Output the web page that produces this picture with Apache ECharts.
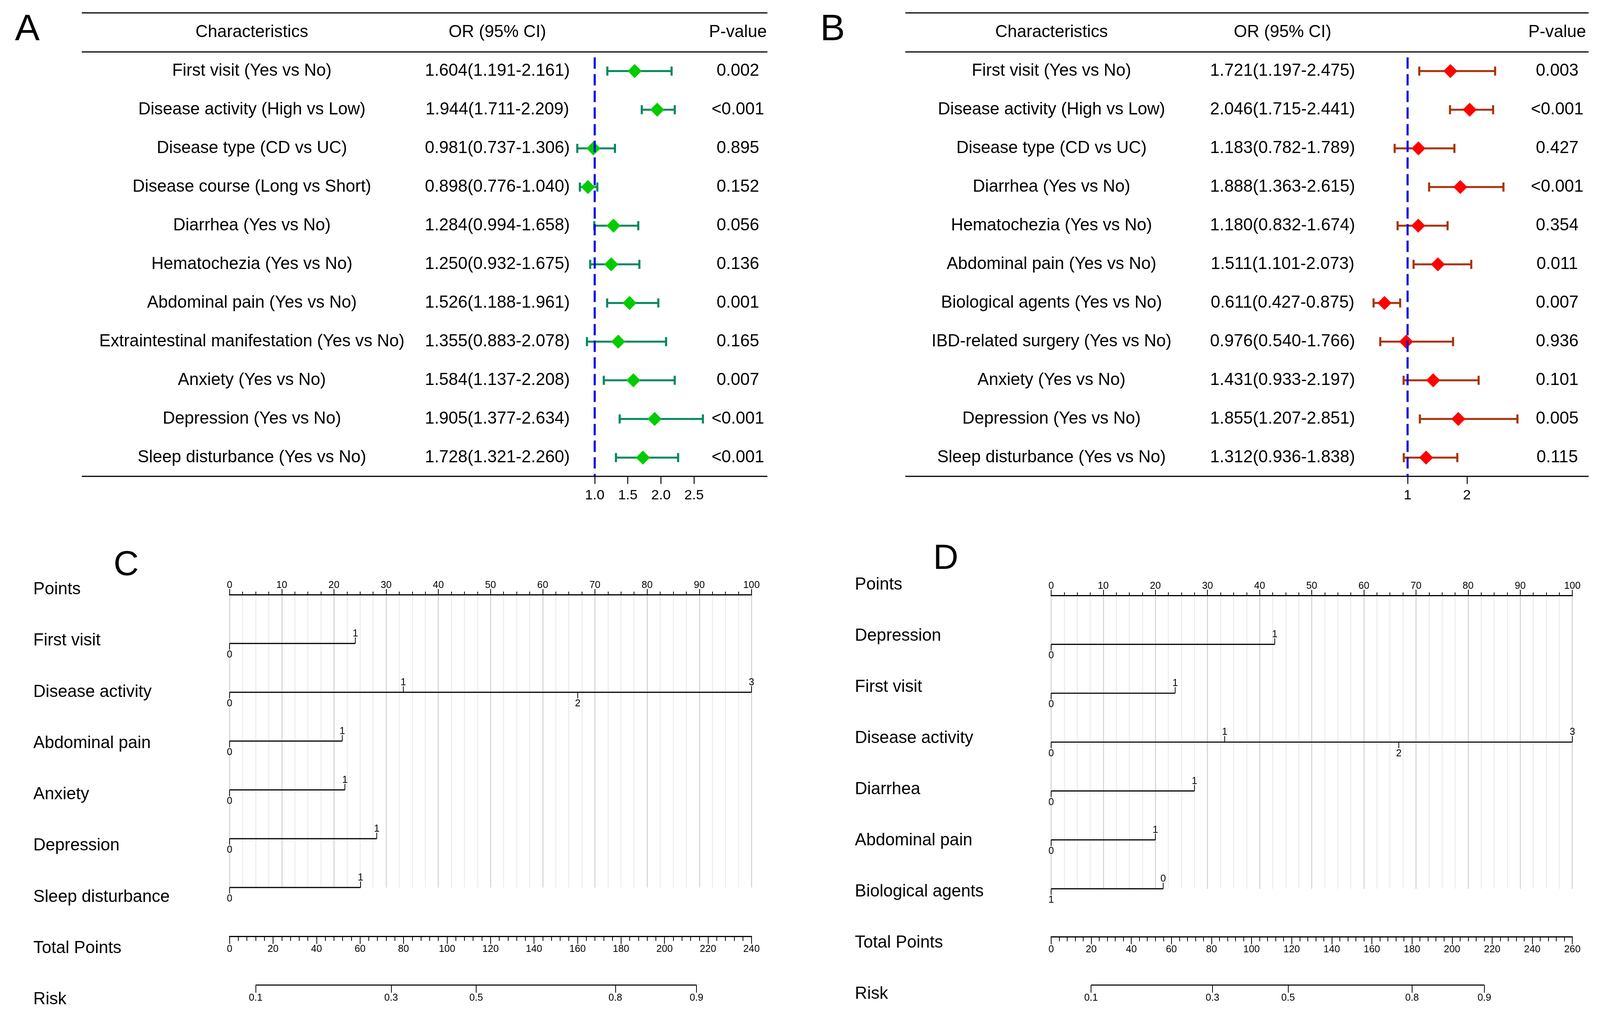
<!DOCTYPE html>
<html>
<head>
<meta charset="utf-8">
<script src="https://cdn.jsdelivr.net/npm/echarts@6/dist/echarts.min.js"></script>
<style>
html,body{margin:0;padding:0;background:#fff;overflow:hidden;}
#chart{width:100vw;height:100vh;}
</style>
</head>
<body>
<div id="chart"></div>
<script>
// ================= DATA =================
// Panel A – forest plot
const aCharacteristics = [
  'First visit (Yes vs No)', 'Disease activity (High vs Low)', 'Disease type (CD vs UC)',
  'Disease course (Long vs Short)', 'Diarrhea (Yes vs No)', 'Hematochezia (Yes vs No)',
  'Abdominal pain (Yes vs No)', 'Extraintestinal manifestation (Yes vs No)', 'Anxiety (Yes vs No)',
  'Depression (Yes vs No)', 'Sleep disturbance (Yes vs No)'
];
const aOR    = [1.604, 1.944, 0.981, 0.898, 1.284, 1.250, 1.526, 1.355, 1.584, 1.905, 1.728];
const aLower = [1.191, 1.711, 0.737, 0.776, 0.994, 0.932, 1.188, 0.883, 1.137, 1.377, 1.321];
const aUpper = [2.161, 2.209, 1.306, 1.040, 1.658, 1.675, 1.961, 2.078, 2.208, 2.634, 2.260];
const aPValue = ['0.002', '<0.001', '0.895', '0.152', '0.056', '0.136', '0.001', '0.165', '0.007', '<0.001', '<0.001'];
const aTicks = [1.0, 1.5, 2.0, 2.5];

// Panel B – forest plot
const bCharacteristics = [
  'First visit (Yes vs No)', 'Disease activity (High vs Low)', 'Disease type (CD vs UC)',
  'Diarrhea (Yes vs No)', 'Hematochezia (Yes vs No)', 'Abdominal pain (Yes vs No)',
  'Biological agents (Yes vs No)', 'IBD-related surgery (Yes vs No)', 'Anxiety (Yes vs No)',
  'Depression (Yes vs No)', 'Sleep disturbance (Yes vs No)'
];
const bOR    = [1.721, 2.046, 1.183, 1.888, 1.180, 1.511, 0.611, 0.976, 1.431, 1.855, 1.312];
const bLower = [1.197, 1.715, 0.782, 1.363, 0.832, 1.101, 0.427, 0.540, 0.933, 1.207, 0.936];
const bUpper = [2.475, 2.441, 1.789, 2.615, 1.674, 2.073, 0.875, 1.766, 2.197, 2.851, 1.838];
const bPValue = ['0.003', '<0.001', '0.427', '<0.001', '0.354', '0.011', '0.007', '0.936', '0.101', '0.005', '0.115'];
const bTicks = [1, 2];

const tableHeaders = ['Characteristics', 'OR (95% CI)', 'P-value'];

// Panel C – nomogram
const cVariables = ['First visit', 'Disease activity', 'Abdominal pain', 'Anxiety', 'Depression', 'Sleep disturbance'];
const cLevels = [['0', '1'], ['0', '1', '2', '3'], ['0', '1'], ['0', '1'], ['0', '1'], ['0', '1']];
const cPoints = [[0, 24.1], [0, 33.3, 66.7, 100], [0, 21.6], [0, 22.1], [0, 28.2], [0, 25.1]];
const cTotalMax = 240;
const cRiskLabels = ['0.1', '0.3', '0.5', '0.8', '0.9'];
const cRiskAt = [12.0, 74.3, 113.4, 177.4, 214.7];   // position on Total Points scale

// Panel D – nomogram
const dVariables = ['Depression', 'First visit', 'Disease activity', 'Diarrhea', 'Abdominal pain', 'Biological agents'];
const dLevels = [['0', '1'], ['0', '1'], ['0', '1', '2', '3'], ['0', '1'], ['0', '1'], ['1', '0']];
const dPoints = [[0, 42.9], [0, 23.8], [0, 33.3, 66.7, 100], [0, 27.5], [0, 20.0], [0, 21.5]];
const dTotalMax = 260;
const dRiskLabels = ['0.1', '0.3', '0.5', '0.8', '0.9'];
const dRiskAt = [19.9, 80.5, 118.2, 180.0, 216.1];

// ================= LAYOUT / STYLE =================
// design space is 4224 x 2597; scaled to the real viewport
const el = document.getElementById('chart');
const VW = el.clientWidth || window.innerWidth || 4224;
const VH = el.clientHeight || window.innerHeight || 2597;
const SX = VW / 4224, SY = VH / 2597, S = Math.min(SX, SY);
const X = v => v * SX, Y = v => v * SY, Z = v => v * S;

const FONT = "'Liberation Sans', Arial, Helvetica, sans-serif";
const F_TOP = 147, F_H = 1073, Y_MIN = -0.354, Y_MAX = 10.485;

const grids = [], xAxes = [], yAxes = [], series = [];

function addGrid(g) {
  grids.push(Object.assign({containLabel: false, outerBoundsMode: 'none'}, g));
  return grids.length - 1;
}

function forestPanel(cfg) {
  const gF = addGrid({left: X(cfg.plotLeft), top: Y(F_TOP), width: X(cfg.plotWidth), height: Y(F_H)});
  xAxes.push({
    gridIndex: gF, type: 'value', min: cfg.min, max: cfg.max, interval: cfg.interval, position: 'bottom',
    axisLine: {show: false, onZero: false}, splitLine: {show: false},
    axisTick: {show: true, customValues: cfg.ticks, length: Z(20), lineStyle: {color: '#000', width: Z(2.5)}},
    axisLabel: {show: true, customValues: cfg.ticks, formatter: cfg.fmt, fontSize: Z(37), color: '#000',
      margin: Z(32), fontFamily: FONT, hideOverlap: false}
  });
  const xF = xAxes.length - 1;
  yAxes.push({gridIndex: gF, type: 'value', min: Y_MIN, max: Y_MAX, inverse: true, show: false, axisLine: {onZero: false}});
  const yF = yAxes.length - 1;

  const gT = addGrid({left: X(cfg.tableLeft), top: Y(F_TOP), width: X(cfg.tableWidth), height: Y(F_H)});
  xAxes.push({gridIndex: gT, type: 'value', min: 0, max: cfg.tableWidth, show: false, axisLine: {onZero: false}});
  const xT = xAxes.length - 1;
  yAxes.push({gridIndex: gT, type: 'value', min: Y_MIN, max: Y_MAX, inverse: true, show: false, axisLine: {onZero: false}});
  const yT = yAxes.length - 1;

  // CI bars + diamonds
  series.push({
    type: 'custom', xAxisIndex: xF, yAxisIndex: yF, silent: true, clip: false, z: 3,
    data: cfg.or.map((v, i) => [v, cfg.lo[i], cfg.hi[i], i]),
    encode: {x: [0, 1, 2], y: 3},
    renderItem: function (params, api) {
      const r = api.value(3);
      const pO = api.coord([api.value(0), r]);
      const pL = api.coord([api.value(1), r]);
      const pH = api.coord([api.value(2), r]);
      const cap = Z(12), half = Z(18.5);
      return {
        type: 'group', children: [
          {type: 'line', shape: {x1: pL[0], y1: pL[1], x2: pH[0], y2: pH[1]}, style: {stroke: cfg.ciColor, lineWidth: Z(5)}},
          {type: 'line', shape: {x1: pL[0], y1: pL[1] - cap, x2: pL[0], y2: pL[1] + cap}, style: {stroke: cfg.ciColor, lineWidth: Z(5.5)}},
          {type: 'line', shape: {x1: pH[0], y1: pH[1] - cap, x2: pH[0], y2: pH[1] + cap}, style: {stroke: cfg.ciColor, lineWidth: Z(5.5)}},
          {type: 'polygon', shape: {points: [[pO[0], pO[1] - half], [pO[0] + half, pO[1]], [pO[0], pO[1] + half], [pO[0] - half, pO[1]]]},
            style: {fill: cfg.dotColor}}
        ]
      };
    }
  });
  // reference line at OR = 1
  series.push({
    type: 'line', xAxisIndex: xF, yAxisIndex: yF, silent: true, z: 10, symbol: 'none',
    data: [[1, Y_MIN], [1, Y_MAX]],
    lineStyle: {color: '#0000DD', width: Z(5.5), type: [Z(30), Z(14)]}
  });
  // table text
  series.push({
    type: 'custom', xAxisIndex: xT, yAxisIndex: yT, silent: true, clip: false,
    data: [[0, -1]].concat(cfg.names.map((_, i) => [0, i])),
    encode: {x: 0, y: 1},
    renderItem: function (params, api) {
      const r = api.value(1);
      const texts = r < 0 ? tableHeaders
        : [cfg.names[r], cfg.or[r].toFixed(3) + '(' + cfg.lo[r].toFixed(3) + '-' + cfg.hi[r].toFixed(3) + ')', cfg.p[r]];
      return {
        type: 'group',
        children: texts.map((t, k) => {
          const p = api.coord([cfg.cols[k], r]);
          return {type: 'text', x: p[0], y: p[1],
            style: {text: t, fontSize: Z(45), fontFamily: FONT, fill: '#000', textAlign: 'center', textVerticalAlign: 'middle'}};
        })
      };
    }
  });
}

function nomoPanel(cfg) {
  const nRows = cfg.vars.length;
  // row names
  const gL = addGrid({left: X(cfg.labelGridLeft), top: Y(cfg.labelTop), width: X(10), height: Y(cfg.labelBottom - cfg.labelTop)});
  xAxes.push({gridIndex: gL, type: 'value', min: 0, max: 1, show: false, axisLine: {onZero: false}});
  yAxes.push({
    gridIndex: gL, type: 'category', inverse: true, boundaryGap: false,
    data: ['Points'].concat(cfg.vars, ['Total Points', 'Risk']),
    axisLine: {show: false, onZero: false}, axisTick: {show: false}, splitLine: {show: false},
    axisLabel: {interval: 0, margin: X(cfg.labelGridLeft - cfg.labelX), align: 'left', fontSize: Z(45),
      color: '#000', fontFamily: FONT}
  });

  // Points scale + variables
  const gM = addGrid({left: X(cfg.left), top: Y(cfg.top), width: X(cfg.width), height: Y(nRows * cfg.rowH)});
  xAxes.push({
    gridIndex: gM, type: 'value', min: 0, max: 100, interval: 10, position: 'top',
    axisLine: {show: true, onZero: false, lineStyle: {color: '#000', width: Z(3)}},
    axisTick: {show: true, length: Z(15), lineStyle: {color: '#000', width: Z(2)}},
    minorTick: {show: true, splitNumber: 4, length: Z(8), lineStyle: {color: '#000', width: Z(2)}},
    axisLabel: {fontSize: Z(26), color: '#000', margin: Z(12), fontFamily: FONT, showMinLabel: true, showMaxLabel: true, hideOverlap: false},
    splitLine: {show: true, lineStyle: {color: '#d0d0d0', width: Z(2.5)}},
    minorSplitLine: {show: true, lineStyle: {color: '#ebebeb', width: Z(2.5)}}
  });
  const xM = xAxes.length - 1;
  yAxes.push({gridIndex: gM, type: 'value', min: 0, max: nRows, inverse: true, show: false, axisLine: {onZero: false}});
  const yM = yAxes.length - 1;
  series.push({
    type: 'custom', xAxisIndex: xM, yAxisIndex: yM, silent: true, clip: false, z: 4,
    data: cfg.points.map((p, i) => [Math.min.apply(null, p), i + 1, Math.max.apply(null, p)]),
    encode: {x: [0, 2], y: 1},
    renderItem: function (params, api) {
      const i = params.dataIndex, row = api.value(1);
      const pts = cfg.points[i], lev = cfg.levels[i];
      const a = api.coord([api.value(0), row]), b = api.coord([api.value(2), row]);
      const ch = [{type: 'line', shape: {x1: a[0], y1: a[1], x2: b[0], y2: b[1]}, style: {stroke: '#000', lineWidth: Z(3)}}];
      pts.forEach((v, k) => {
        const p = api.coord([v, row]);
        const dir = k % 2 === 0 ? 1 : -1;
        ch.push({type: 'line', shape: {x1: p[0], y1: p[1], x2: p[0], y2: p[1] + dir * Z(16)}, style: {stroke: '#000', lineWidth: Z(2)}});
        ch.push({type: 'text', x: p[0], y: p[1] + (dir > 0 ? Z(30) : -Z(26)),
          style: {text: lev[k], fontSize: Z(26), fontFamily: FONT, fill: '#000', textAlign: 'center', textVerticalAlign: 'middle'}});
      });
      return {type: 'group', children: ch};
    }
  });

  // Total Points scale
  const gTP = addGrid({left: X(cfg.left), top: Y(cfg.totalY - 100), width: X(cfg.width), height: Y(100)});
  xAxes.push({
    gridIndex: gTP, type: 'value', min: 0, max: cfg.totalMax, interval: 20, position: 'bottom',
    axisLine: {show: true, onZero: false, lineStyle: {color: '#000', width: Z(3)}},
    axisTick: {show: true, length: Z(20), lineStyle: {color: '#000', width: Z(2)}},
    minorTick: {show: true, splitNumber: 5, length: Z(12), lineStyle: {color: '#000', width: Z(2)}},
    axisLabel: {fontSize: Z(26), color: '#000', margin: Z(21), fontFamily: FONT, showMinLabel: true, showMaxLabel: true, hideOverlap: false},
    splitLine: {show: false}
  });
  yAxes.push({gridIndex: gTP, type: 'value', min: 0, max: 1, show: false, axisLine: {onZero: false}});

  // Risk scale
  const gR = addGrid({left: X(cfg.left), top: Y(cfg.riskY - 100), width: X(cfg.width), height: Y(100)});
  xAxes.push({
    gridIndex: gR, type: 'value', min: 0, max: cfg.totalMax, position: 'bottom',
    axisLine: {show: false, onZero: false}, splitLine: {show: false},
    axisTick: {show: true, customValues: cfg.riskAt, length: Z(20), lineStyle: {color: '#000', width: Z(2)}},
    axisLabel: {show: true, customValues: cfg.riskAt, fontSize: Z(26), color: '#000', margin: Z(21), fontFamily: FONT, hideOverlap: false,
      formatter: function (v) {
        const k = cfg.riskAt.findIndex(a => Math.abs(a - v) < 1e-6);
        return k >= 0 ? cfg.riskLabels[k] : '';
      }}
  });
  const xR = xAxes.length - 1;
  yAxes.push({gridIndex: gR, type: 'value', min: 0, max: 1, show: false, axisLine: {onZero: false}});
  const yR = yAxes.length - 1;
  series.push({
    type: 'line', xAxisIndex: xR, yAxisIndex: yR, silent: true, symbol: 'none',
    data: [[cfg.riskAt[0], 0], [cfg.riskAt[cfg.riskAt.length - 1], 0]],
    lineStyle: {color: '#000', width: Z(3)}
  });
}

forestPanel({
  names: aCharacteristics, or: aOR, lo: aLower, hi: aUpper, p: aPValue,
  ticks: aTicks, fmt: v => Number(v).toFixed(1), min: 0.5, max: 3.0, interval: 0.5,
  plotLeft: 1482.6, plotWidth: 437.0, tableLeft: 216, tableWidth: 1810, cols: [449, 1097, 1732],
  ciColor: '#00875C', dotColor: '#00CC00'
});
forestPanel({
  names: bCharacteristics, or: bOR, lo: bLower, hi: bUpper, p: bPValue,
  ticks: bTicks, fmt: v => String(Math.round(v)), min: 0, max: 3, interval: 1,
  plotLeft: 3559.3, plotWidth: 470.1, tableLeft: 2390, tableWidth: 1804, cols: [386, 996, 1721],
  ciColor: '#A83208', dotColor: '#FF0000'
});
nomoPanel({
  vars: cVariables, levels: cLevels, points: cPoints, totalMax: cTotalMax, riskLabels: cRiskLabels, riskAt: cRiskAt,
  left: 606, width: 1378, top: 1523, rowH: 125, totalY: 2398, riskY: 2523,
  labelX: 88, labelGridLeft: 600, labelTop: 1510, labelBottom: 2560
});
nomoPanel({
  vars: dVariables, levels: dLevels, points: dPoints, totalMax: dTotalMax, riskLabels: dRiskLabels, riskAt: dRiskAt,
  left: 2775, width: 1376, top: 1525, rowH: 125.2, totalY: 2399, riskY: 2523,
  labelX: 2257, labelGridLeft: 2770, labelTop: 1498, labelBottom: 2546
});

const rule = (x1, x2, y) => ({type: 'line', silent: true, shape: {x1: X(x1), y1: Y(y), x2: X(x2), y2: Y(y)}, style: {stroke: '#000', lineWidth: Z(3)}});
const letter = (t, x, y, s) => ({type: 'text', silent: true, x: X(x), y: Y(y),
  style: {text: t, fontSize: Z(s), fontFamily: FONT, fill: '#000', textAlign: 'center', textVerticalAlign: 'middle'}});

const option = {
  animation: false,
  backgroundColor: '#ffffff',
  textStyle: {fontFamily: FONT},
  grid: grids, xAxis: xAxes, yAxis: yAxes, series: series,
  graphic: [
    letter('A', 72, 77, 98), letter('B', 2198, 77, 98), letter('C', 333, 1448, 92), letter('D', 2497, 1432, 92),
    rule(216, 2026, 33), rule(216, 2026, 133), rule(216, 2026, 1220),
    rule(2390, 4194, 33), rule(2390, 4194, 133), rule(2390, 4194, 1220)
  ]
};

const chart = echarts.init(el, null, {renderer: 'canvas'});
chart.setOption(option);
</script>
</body>
</html>
